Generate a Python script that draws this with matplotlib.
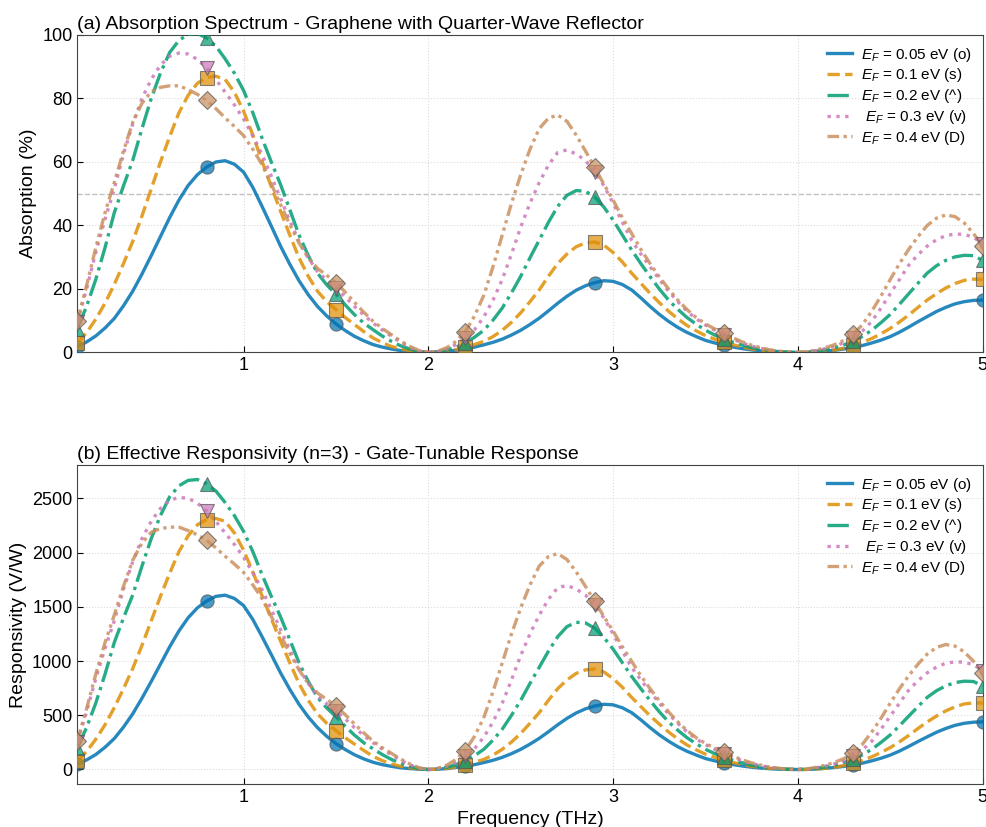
import numpy as np
import matplotlib
matplotlib.use("Agg")
import matplotlib.pyplot as plt

plt.rcParams['font.family'] = ['Liberation Sans', 'DejaVu Sans']
plt.rcParams['mathtext.fontset'] = 'custom'
plt.rcParams['mathtext.rm'] = 'Liberation Sans'
plt.rcParams['mathtext.it'] = 'Liberation Sans:italic'

# Frequency grid (THz), 0.1 to 5.0 in 0.05 steps
freq = np.round(np.linspace(0.1, 5.0, 99), 2)

# Absorption (%) for each Fermi level
abs_005 = [
    1.8, 3.3, 5.2, 7.7, 10.7, 14.7, 19.3, 24.7, 30.5, 36.5,
    42.5, 48.0, 52.6, 56.0, 58.4, 60.0, 60.4, 59.3, 56.8, 52.0,
    46.0, 39.8, 33.5, 27.8, 22.6, 18.2, 14.5, 11.5, 9.0, 6.9,
    5.1, 3.7, 2.5, 1.7, 1.1, 0.6, 0.3, 0.1, 0.0, 0.1,
    0.3, 0.7, 1.2, 1.7, 2.4, 3.2, 4.2, 5.5, 7.0, 8.8,
    10.8, 13.1, 15.5, 17.7, 19.6, 21.0, 22.0, 22.6, 22.4, 21.4,
    19.7, 17.2, 14.5, 12.0, 9.8, 7.9, 6.3, 5.0, 3.8, 3.0,
    2.3, 1.7, 1.2, 0.8, 0.5, 0.25, 0.12, 0.03, 0.0, 0.05,
    0.2, 0.4, 0.7, 1.1, 1.6, 2.2, 3.0, 3.9, 5.0, 6.4,
    8.0, 9.7, 11.3, 12.9, 14.2, 15.3, 16.0, 16.4, 16.5,
]
abs_01 = [
    3.0, 6.2, 10.5, 15.5, 21.4, 28.0, 35.0, 43.0, 51.5, 60.0,
    68.0, 75.5, 81.0, 84.8, 86.6, 87.0, 86.0, 82.0, 76.0, 68.5,
    60.2, 52.2, 44.5, 37.0, 29.8, 24.0, 19.3, 16.0, 13.5, 11.0,
    8.8, 6.6, 4.6, 3.1, 1.9, 1.1, 0.6, 0.2, 0.0, 0.1,
    0.4, 0.9, 1.6, 2.5, 3.5, 5.0, 7.0, 9.5, 12.5, 16.0,
    19.7, 24.0, 28.0, 31.0, 33.3, 34.5, 34.8, 33.8, 31.5, 28.5,
    25.0, 21.8, 18.6, 15.7, 13.0, 10.6, 8.5, 6.8, 5.3, 4.2,
    3.2, 2.4, 1.7, 1.1, 0.7, 0.4, 0.2, 0.05, 0.0, 0.05,
    0.2, 0.45, 0.8, 1.4, 2.2, 3.2, 4.4, 5.9, 7.6, 9.6,
    11.8, 14.2, 16.5, 18.5, 20.3, 21.7, 22.7, 23.1, 23.0,
]
abs_02 = [
    7.5, 14.5, 23.0, 33.0, 44.0, 52.5, 60.5, 70.5, 80.0, 88.0,
    94.5, 98.3, 100.2, 100.5, 99.0, 96.5, 92.5, 88.0, 82.5, 75.5,
    67.5, 60.0, 52.9, 45.0, 37.0, 30.5, 25.0, 21.3, 18.3, 15.0,
    11.9, 9.3, 7.2, 5.2, 3.5, 2.1, 1.1, 0.3, 0.0, 0.2,
    0.8, 1.7, 3.0, 4.8, 7.0, 10.2, 14.0, 18.8, 24.0, 29.8,
    35.4, 41.0, 46.0, 49.5, 51.0, 50.8, 49.0, 45.8, 41.7, 37.0,
    32.3, 28.0, 23.9, 20.0, 16.5, 13.6, 11.0, 8.9, 7.0, 5.5,
    4.3, 3.2, 2.3, 1.5, 1.0, 0.55, 0.25, 0.06, 0.0, 0.1,
    0.4, 0.85, 1.5, 2.4, 3.5, 5.1, 7.0, 9.4, 12.0, 15.2,
    18.5, 21.8, 25.0, 27.3, 29.0, 30.1, 30.6, 30.5, 29.0,
]
abs_03 = [
    9.5, 20.0, 31.5, 42.0, 51.5, 62.5, 72.0, 80.0, 86.0, 90.5,
    93.3, 94.3, 94.0, 92.3, 89.6, 86.0, 82.0, 78.0, 73.5, 68.2,
    62.3, 55.5, 48.5, 41.5, 35.0, 29.8, 25.5, 22.8, 20.3, 17.5,
    14.5, 11.8, 9.3, 7.1, 5.1, 3.2, 1.6, 0.5, 0.0, 0.3,
    1.1, 2.5, 4.5, 7.2, 11.2, 16.5, 23.0, 31.0, 39.5, 47.0,
    53.5, 59.0, 63.0, 63.8, 62.5, 60.5, 57.0, 52.5, 47.0, 41.0,
    35.4, 31.0, 27.0, 23.0, 19.3, 16.0, 13.0, 10.6, 8.6, 7.0,
    5.5, 4.1, 3.0, 2.0, 1.3, 0.7, 0.35, 0.08, 0.0, 0.15,
    0.6, 1.2, 2.0, 3.1, 4.5, 6.8, 9.8, 14.0, 18.5, 23.0,
    27.5, 30.8, 33.5, 35.5, 36.8, 37.3, 37.2, 36.3, 34.3,
]
abs_04 = [
    10.0, 21.0, 33.0, 44.0, 53.5, 63.5, 72.5, 78.5, 82.2, 83.5,
    84.0, 84.0, 82.8, 81.3, 79.4, 76.8, 73.9, 71.2, 68.3, 64.0,
    59.2, 53.0, 46.6, 40.3, 34.5, 29.8, 26.5, 24.3, 22.0, 19.0,
    15.8, 12.7, 9.9, 7.6, 5.6, 3.6, 1.9, 0.6, 0.0, 0.4,
    1.5, 3.5, 6.5, 11.5, 18.0, 27.0, 37.0, 47.0, 56.0, 64.0,
    70.5, 73.8, 74.8, 72.8, 68.5, 63.5, 58.3, 53.0, 48.0, 42.5,
    37.5, 32.5, 28.0, 23.8, 20.0, 16.5, 13.5, 11.0, 9.0, 7.4,
    6.0, 4.6, 3.3, 2.3, 1.5, 0.8, 0.4, 0.1, 0.0, 0.2,
    0.8, 1.5, 2.5, 3.8, 5.8, 8.8, 13.0, 17.8, 23.0, 28.0,
    32.5, 36.5, 40.0, 42.3, 43.3, 42.8, 40.8, 37.5, 33.5,
]

# Effective responsivity (V/W), n = 3
resp_005 = [
    48, 88, 138, 205, 285, 391, 513, 657, 811, 971,
    1131, 1277, 1399, 1490, 1553, 1596, 1607, 1577, 1511, 1383,
    1224, 1059, 891, 739, 601, 484, 386, 306, 239, 184,
    136, 98, 67, 45, 29, 16, 8, 3, 0, 3,
    8, 19, 32, 45, 64, 85, 112, 146, 186, 234,
    287, 348, 412, 471, 521, 559, 585, 601, 596, 569,
    524, 458, 386, 319, 261, 210, 168, 133, 101, 80,
    61, 45, 32, 21, 13, 7, 3, 1, 0, 1,
    5, 11, 19, 29, 43, 59, 80, 104, 133, 170,
    213, 258, 301, 343, 378, 407, 426, 436, 439,
]
resp_01 = [
    80, 165, 279, 412, 569, 745, 931, 1144, 1370, 1596,
    1809, 2008, 2155, 2256, 2304, 2314, 2288, 2181, 2022, 1822,
    1601, 1389, 1184, 984, 793, 638, 513, 426, 359, 293,
    234, 176, 122, 82, 51, 29, 16, 5, 0, 3,
    11, 24, 43, 67, 93, 133, 186, 253, 333, 426,
    524, 638, 745, 825, 886, 918, 926, 899, 838, 758,
    665, 580, 495, 418, 346, 282, 226, 181, 141, 112,
    85, 64, 45, 29, 19, 11, 5, 1, 0, 1,
    5, 12, 21, 37, 59, 85, 117, 157, 202, 255,
    314, 378, 439, 492, 540, 577, 604, 614, 612,
]
resp_02 = [
    200, 386, 612, 878, 1170, 1397, 1609, 1875, 2128, 2341,
    2514, 2615, 2665, 2673, 2633, 2567, 2461, 2341, 2195, 2008,
    1796, 1596, 1407, 1197, 984, 811, 665, 567, 487, 399,
    317, 247, 192, 138, 93, 56, 29, 8, 0, 5,
    21, 45, 80, 128, 186, 271, 372, 500, 638, 793,
    942, 1091, 1224, 1317, 1357, 1351, 1303, 1218, 1109, 984,
    859, 745, 636, 532, 439, 362, 293, 237, 186, 146,
    114, 85, 61, 40, 27, 15, 7, 2, 0, 3,
    11, 23, 40, 64, 93, 136, 186, 250, 319, 404,
    492, 580, 665, 726, 771, 801, 814, 811, 771,
]
resp_03 = [
    253, 532, 838, 1117, 1370, 1663, 1915, 2128, 2288, 2407,
    2482, 2508, 2500, 2455, 2383, 2288, 2181, 2075, 1955, 1814,
    1657, 1476, 1290, 1104, 931, 793, 678, 606, 540, 466,
    386, 314, 247, 189, 136, 85, 43, 13, 0, 8,
    29, 67, 120, 192, 298, 439, 612, 825, 1051, 1250,
    1423, 1569, 1676, 1697, 1663, 1609, 1516, 1397, 1250, 1091,
    942, 825, 718, 612, 513, 426, 346, 282, 229, 186,
    146, 109, 80, 53, 35, 19, 9, 2, 0, 4,
    16, 32, 53, 82, 120, 181, 261, 372, 492, 612,
    732, 819, 891, 944, 979, 992, 990, 966, 912,
]
resp_04 = [
    266, 559, 878, 1170, 1423, 1689, 1929, 2088, 2187, 2221,
    2234, 2234, 2202, 2163, 2112, 2043, 1966, 1894, 1817, 1702,
    1575, 1410, 1240, 1072, 918, 793, 705, 646, 585, 505,
    420, 338, 263, 202, 149, 96, 51, 16, 0, 11,
    40, 93, 173, 306, 479, 718, 984, 1250, 1490, 1702,
    1875, 1963, 1990, 1936, 1822, 1689, 1551, 1410, 1277, 1131,
    998, 865, 745, 633, 532, 439, 359, 293, 239, 197,
    160, 122, 88, 61, 40, 21, 11, 3, 0, 5,
    21, 40, 67, 101, 154, 234, 346, 473, 612, 745,
    865, 971, 1064, 1125, 1152, 1138, 1085, 998, 891,
]

labels = [r'$E_F$ = 0.05 eV (o)', r'$E_F$ = 0.1 eV (s)', r'$E_F$ = 0.2 eV (^)',
          r' $E_F$ = 0.3 eV (v)', r'$E_F$ = 0.4 eV (D)']
colors = ['#0173B2', '#DE8F05', '#029E73', '#CC78BC', '#CA9161']
styles = ['-', '--', '-.', ':', (0, (3.5, 1.3, 1, 1.3, 1, 1.3))]
markers = ['o', 's', '^', 'v', 'D']
mark_step = 14  # a marker every 0.7 THz

absorption = [abs_005, abs_01, abs_02, abs_03, abs_04]
responsivity = [resp_005, resp_01, resp_02, resp_03, resp_04]

fig = plt.figure(figsize=(9.86, 8.27), dpi=100)
ax1 = fig.add_axes([0.0784, 0.5738, 0.9182, 0.3839])
ax2 = fig.add_axes([0.0784, 0.0520, 0.9182, 0.3857])


def draw_panel(ax, series):
    for vals, c, ls, m, lab in zip(series, colors, styles, markers, labels):
        vals = np.asarray(vals, dtype=float)
        ax.plot(freq, vals, color=c, linestyle=ls, linewidth=2.4, alpha=0.85,
                label=lab, zorder=3)
        ax.plot(freq[::mark_step], vals[::mark_step], linestyle='none',
                marker=m, markersize=9.5, markerfacecolor=c,
                markeredgecolor='#555555', markeredgewidth=0.8, alpha=0.72,
                zorder=4)
    ax.set_xlim(0.1, 5.0)
    ax.grid(True, linestyle=':', color='#cccccc', linewidth=0.8, alpha=0.7)
    ax.tick_params(direction='in', labelsize=13, length=4)
    for sp in ax.spines.values():
        sp.set_color('#444444')
    ax.legend(loc='upper right', frameon=False, fontsize=11,
              handlelength=1.6, handletextpad=0.6, labelspacing=0.18,
              borderaxespad=0.3)


# (a) Absorption
draw_panel(ax1, absorption)
ax1.axhline(50, color='#999999', linestyle='--', linewidth=1, alpha=0.6, zorder=2)
ax1.set_ylim(0, 100)
ax1.set_ylabel("Absorption (%)", fontsize=14)
ax1.set_title("(a) Absorption Spectrum - Graphene with Quarter-Wave Reflector",
              loc='left', fontsize=14, pad=4)

# (b) Responsivity
draw_panel(ax2, responsivity)
ax2.set_ylabel("Responsivity (V/W)", fontsize=14)
ax2.set_xlabel("Frequency (THz)", fontsize=14)
ax2.set_title("(b) Effective Responsivity (n=3) - Gate-Tunable Response",
              loc='left', fontsize=14, pad=4)

plt.savefig("out.png", dpi=100)
